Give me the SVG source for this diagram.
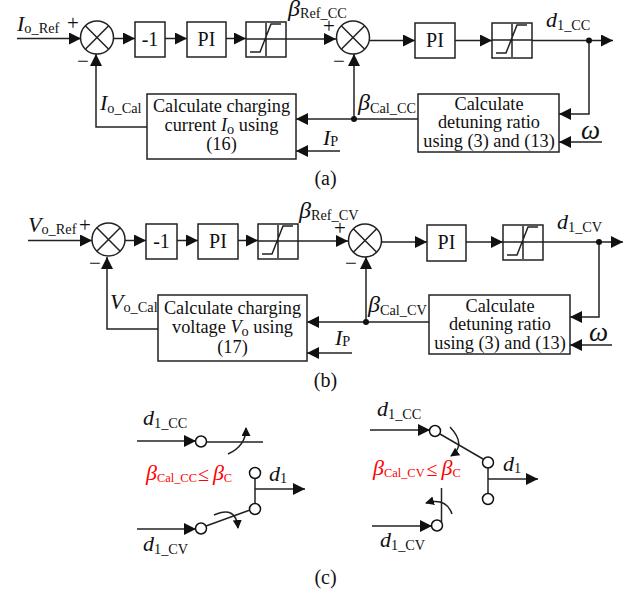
<svg xmlns="http://www.w3.org/2000/svg" xmlns:xlink="http://www.w3.org/1999/xlink" width="639" height="594" viewBox="0 0 639 594">
<style>
text{font-family:"Liberation Serif","Times New Roman",serif;fill:#111;font-size:18.3px}
.c{text-anchor:middle}
.v{font-size:22px;font-style:italic}
.b{font-size:24px;font-style:italic}
.w{font-size:27px;font-style:italic}
.s{font-size:14.300px;font-style:normal}
.t{font-size:12.400px;font-style:normal}
.le{font-size:20px;font-style:normal}
.i{font-style:italic}
.o{font-size:21px}
.p{font-size:20px}
.r,.r tspan{fill:#f00}
.box{fill:#fff;stroke:#222;stroke-width:1.500}
.wire{fill:none;stroke:#222;stroke-width:1.500}
.arr{marker-end:url(#a)}
.carr{marker-end:url(#b)}
.pin{fill:#fff;stroke:#111;stroke-width:1.500}
</style>
<defs>
<marker id="a" markerUnits="userSpaceOnUse" markerWidth="13" markerHeight="12" refX="12" refY="6" orient="auto"><path d="M0 0L12 6L0 12z" fill="#111"/></marker>
<marker id="b" markerUnits="userSpaceOnUse" markerWidth="10" markerHeight="10" refX="8" refY="4.500" orient="auto"><path d="M0 0L9 4.500L0 9z" fill="#111"/></marker>
<g id="sum"><circle r="16.500" class="box"/><path d="M-11.700-11.700L11.700 11.700M-11.700 11.700L11.700-11.700" class="wire"/></g>
<g id="sat"><rect width="40" height="35" class="box"/><path d="M0 17H40M20 1V34M4 30H14L25 2H35" class="wire"/></g>
</defs>
<g id="connectors">
<path class="wire arr" d="M17 38.500H81"/>
<path class="wire arr" d="M114 38.500H135"/>
<path class="wire arr" d="M165 38.500H187"/>
<path class="wire arr" d="M226 38.500H246"/>
<path class="wire arr" d="M286 39H336"/>
<path class="wire arr" d="M370 40.500H415"/>
<path class="wire arr" d="M455 40.500H492"/>
<path class="wire arr" d="M531 40.500H613"/>
<path class="wire arr" d="M589 40.500V114H559"/>
<path class="wire arr" d="M418 119H296"/>
<path class="wire arr" d="M354 119V54"/>
<path class="wire arr" d="M147 127H96V54"/>
<path class="wire arr" d="M340 151H296"/>
<path class="wire arr" d="M602 142H559"/>
<circle cx="589" cy="40.500" r="3" fill="#111"/>
<circle cx="354" cy="119" r="3" fill="#111"/>
<path class="wire arr" d="M28 240.500H92"/>
<path class="wire arr" d="M125 240.500H146"/>
<path class="wire arr" d="M177 240.500H198"/>
<path class="wire arr" d="M238 240.500H258"/>
<path class="wire arr" d="M297 241H348"/>
<path class="wire arr" d="M382 242H427"/>
<path class="wire arr" d="M466 242H503"/>
<path class="wire arr" d="M543 242H623"/>
<path class="wire arr" d="M599 242V317H570"/>
<path class="wire arr" d="M429 322H307"/>
<path class="wire arr" d="M366 322V257"/>
<path class="wire arr" d="M158 329H107V257"/>
<path class="wire arr" d="M352 353H307"/>
<path class="wire arr" d="M612 345H570"/>
<circle cx="599" cy="242" r="3" fill="#111"/>
<circle cx="366" cy="322" r="3" fill="#111"/>
<path class="wire arr" d="M137 441H196"/>
<path class="wire" d="M207 442H263"/>
<path class="wire carr" d="M228 454Q246 446 246 428"/>
<path class="wire arr" d="M137 529H196"/>
<path class="wire" d="M206 526L250 510"/>
<path class="wire" d="M255 479V503"/>
<path class="wire arr" d="M255 489H305"/>
<path class="wire carr" d="M214 515Q236 505 238 528"/>
<path class="wire arr" d="M370 430H430"/>
<path class="wire" d="M440 434L483 459"/>
<path class="wire" d="M488 468V493"/>
<path class="wire arr" d="M488 479H538"/>
<path class="wire carr" d="M450 427Q467 445 451 456"/>
<path class="wire arr" d="M372 526H432"/>
<path class="wire" d="M441.500 488V522"/>
<path class="wire carr" d="M452 514Q446 497 426 503"/>
</g>
<g id="sum-a1"><use xlink:href="#sum" href="#sum" x="97" y="37.500"/></g>
<g id="gain-a"><rect x="135" y="22" width="30" height="35" class="box"/><text x="150" y="46" class="c p">-1</text></g>
<g id="pi-a1"><rect x="187" y="22" width="39" height="35" class="box"/><text x="206.500" y="46" class="c p">PI</text></g>
<g id="sat-a1"><use xlink:href="#sat" href="#sat" x="246" y="22"/></g>
<g id="sum-a2"><use xlink:href="#sum" href="#sum" x="353" y="37.500"/></g>
<g id="pi-a2"><rect x="415" y="23" width="40" height="35" class="box"/><text x="435" y="47" class="c p">PI</text></g>
<g id="sat-a2"><use xlink:href="#sat" href="#sat" x="492" y="23"/></g>
<g id="calc-a1"><rect x="147" y="94" width="149" height="65" class="box"/>
<text x="221.500" y="112" class="c">Calculate charging</text>
<text x="221.500" y="131" class="c">current <tspan class="i">I</tspan><tspan class="s" dy="3">o</tspan><tspan dy="-3"> using</tspan></text>
<text x="221.500" y="150" class="c">(16)</text></g>
<g id="calc-a2"><rect x="418" y="94" width="141" height="58" class="box"/>
<text x="489" y="110" class="c">Calculate</text>
<text x="489" y="128" class="c">detuning ratio</text>
<text x="489" y="147" class="c">using (3) and (13)</text></g>
<g id="sum-b1"><use xlink:href="#sum" href="#sum" x="108.500" y="239.500"/></g>
<g id="gain-b"><rect x="146" y="224" width="31" height="35" class="box"/><text x="161.500" y="248" class="c p">-1</text></g>
<g id="pi-b1"><rect x="198" y="224" width="40" height="35" class="box"/><text x="218" y="248" class="c p">PI</text></g>
<g id="sat-b1"><use xlink:href="#sat" href="#sat" x="258" y="224"/></g>
<g id="sum-b2"><use xlink:href="#sum" href="#sum" x="365" y="240.500"/></g>
<g id="pi-b2"><rect x="427" y="225" width="39" height="36" class="box"/><text x="446.500" y="249" class="c p">PI</text></g>
<g id="sat-b2"><use xlink:href="#sat" href="#sat" x="503" y="225"/></g>
<g id="calc-b1"><rect x="158" y="295" width="149" height="66" class="box"/>
<text x="232.500" y="314" class="c">Calculate charging</text>
<text x="232.500" y="333" class="c">voltage <tspan class="i">V</tspan><tspan class="s" dy="3">o</tspan><tspan dy="-3"> using</tspan></text>
<text x="232.500" y="353" class="c">(17)</text></g>
<g id="calc-b2"><rect x="429" y="295" width="141" height="59" class="box"/>
<text x="500" y="312" class="c">Calculate</text>
<text x="500" y="330" class="c">detuning ratio</text>
<text x="500" y="349" class="c">using (3) and (13)</text></g>
<g id="switch-left">
<circle cx="201" cy="441.500" r="5.500" class="pin"/><circle cx="255" cy="473" r="5.500" class="pin"/><circle cx="255" cy="509" r="5.500" class="pin"/><circle cx="201" cy="528.500" r="5.500" class="pin"/>
</g>
<g id="switch-right">
<circle cx="435" cy="431" r="5.500" class="pin"/><circle cx="488" cy="462.500" r="5.500" class="pin"/><circle cx="488" cy="499" r="5.500" class="pin"/><circle cx="437" cy="525.500" r="5.500" class="pin"/>
</g>
<g id="labels">
<text x="17" y="31" class="v">I<tspan class="s" dy="2">o_Ref</tspan></text>
<text x="73" y="30" class="c o">+</text>
<text x="83" y="68" class="c o">−</text>
<text x="288" y="16" class="b">β<tspan class="s" dy="2">Ref_CC</tspan></text>
<text x="329" y="33" class="c o">+</text>
<text x="339" y="68" class="c o">−</text>
<text x="546" y="27" class="v">d<tspan class="s" dy="3">1_CC</tspan></text>
<text x="100" y="110" class="v">I<tspan class="s" dy="3">o_Cal</tspan></text>
<text x="358" y="110" class="b">β<tspan class="s" dy="3">Cal_CC</tspan></text>
<text x="323" y="145" class="v">I<tspan class="s" dy="1">P</tspan></text>
<text x="581" y="139" class="w">ω</text>
<text x="325.500" y="185" class="c p">(a)</text>
<text x="28" y="232" class="v">V<tspan class="s" dy="2">o_Ref</tspan></text>
<text x="85" y="232" class="c o">+</text>
<text x="95" y="270" class="c o">−</text>
<text x="299" y="218" class="b">β<tspan class="s" dy="2">Ref_CV</tspan></text>
<text x="340" y="235" class="c o">+</text>
<text x="351" y="270" class="c o">−</text>
<text x="557" y="229" class="v">d<tspan class="s" dy="3">1_CV</tspan></text>
<text x="110" y="309" class="v">V<tspan class="s" dy="3">o_Cal</tspan></text>
<text x="368" y="312" class="b">β<tspan class="s" dy="3">Cal_CV</tspan></text>
<text x="335" y="345" class="v">I<tspan class="s" dy="1">P</tspan></text>
<text x="589" y="341" class="w">ω</text>
<text x="325.500" y="387" class="c p">(b)</text>
<text x="143" y="425" class="v">d<tspan class="s" dy="3">1_CC</tspan></text>
<text x="146" y="480" class="v r">β<tspan class="t" dy="2">Cal_CC</tspan><tspan class="le" dx="1" dy="-1">≤</tspan><tspan dx="4" dy="-1">β</tspan><tspan class="t" dy="2">C</tspan></text>
<text x="269" y="481" class="v">d<tspan class="s" dy="2">1</tspan></text>
<text x="143" y="551" class="v">d<tspan class="s" dy="3">1_CV</tspan></text>
<text x="325.500" y="584" class="c p">(c)</text>
<text x="377" y="416" class="v">d<tspan class="s" dy="3">1_CC</tspan></text>
<text x="373" y="475" class="v r">β<tspan class="t" dy="2">Cal_CV</tspan><tspan class="le" dx="2" dy="-1">≤</tspan><tspan dx="4" dy="-1">β</tspan><tspan class="t" dy="2">C</tspan></text>
<text x="503" y="471" class="v">d<tspan class="s" dy="2">1</tspan></text>
<text x="380" y="547" class="v">d<tspan class="s" dy="3">1_CV</tspan></text>
</g>
</svg>
